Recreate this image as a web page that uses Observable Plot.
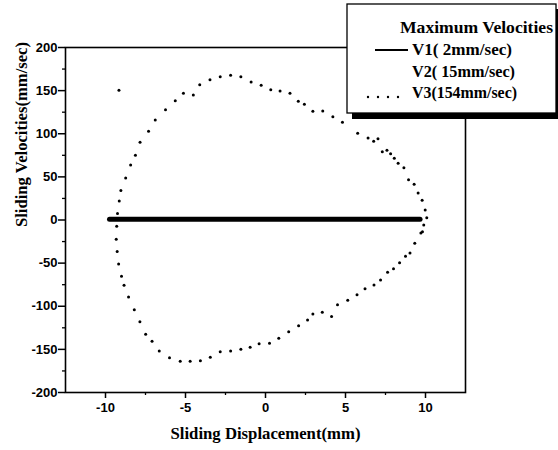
<!DOCTYPE html>
<html><head><meta charset="utf-8">
<script src="https://cdn.jsdelivr.net/npm/d3@7"></script>
<script src="https://cdn.jsdelivr.net/npm/@observablehq/plot@0.6"></script>
<style>
body{margin:0;background:#fff;}
#wrap{position:relative;width:558px;height:450px;}
</style></head><body><div id="wrap"></div>
<script>
const xMajorTicks = [-10, -5, 0, 5, 10];
const yMajorTicks = [-200, -150, -100, -50, 0, 50, 100, 150, 200];
const xMinorTicks = [-7.5, -2.5, 2.5, 7.5];
const yMinorTicks = [-175, -125, -75, -25, 25, 75, 125, 175];

const xTitle = "Sliding Displacement(mm)";
const yTitle = "Sliding Velocities(mm/sec)";

const v1X = [-9.75, 9.66];
const v1Y = [1, 1];

const v3X = [10.08,9.98,9.79,9.54,9.29,8.94,8.65,8.29,8.05,7.82,7.59,7.30,7.03,6.76,6.41,5.76,4.81,4.21,3.58,2.96,2.43,2.05,1.53,0.91,0.33,-0.27,-0.90,-1.54,-2.18,-2.83,-3.47,-4.11,-4.51,-5.13,-5.64,-6.25,-6.89,-7.31,-7.84,-8.13,-8.43,-8.74,-9.04,-9.14,-9.25,-9.30,-9.33,-9.27,-9.18,-9.00,-8.84,-8.56,-8.20,-7.85,-7.49,-7.09,-6.64,-6.00,-5.33,-4.71,-4.07,-3.45,-2.83,-2.18,-1.54,-0.96,-0.40,0.25,0.83,1.45,2.07,2.63,2.96,3.55,4.13,4.50,5.14,5.72,6.22,6.78,7.19,7.63,8.00,8.38,8.75,9.03,9.33,9.71,9.81,9.89,-9.16];
const v3Y = [2.7,11.6,22.8,31.3,41.4,46.7,60.6,65.7,71.5,76.9,80.8,79.2,94.3,91.2,95.1,100.5,113.3,119.8,126.4,126.0,134.1,137.6,146.9,149.6,151.1,156.2,160.0,166.1,167.8,166.1,162.7,156.9,144.9,146.9,138.3,127.9,115.9,102.8,90.1,75.0,63.8,48.7,34.2,22.0,7.5,-7.2,-22.3,-36.5,-51.0,-65.3,-75.6,-89.3,-104.0,-118.0,-132.5,-140.6,-151.9,-159.6,-163.8,-163.8,-163.1,-159.2,-152.7,-151.9,-149.9,-147.6,-143.4,-142.9,-137.2,-129.5,-122.5,-115.9,-109.0,-106.9,-111.9,-98.2,-93.1,-86.6,-79.6,-75.4,-69.6,-60.6,-56.5,-49.5,-42.1,-38.3,-27.0,-15.1,-13.6,-5.8,150.5];

const legendTitle = "Maximum Velocities";
const legendLabels = ["V1( 2mm/sec)", "V2( 15mm/sec)", "V3(154mm/sec)"];

const v1 = v1X.map((x, i) => ({x, y: v1Y[i]}));
const v3 = v3X.map((x, i) => ({x, y: v3Y[i]}));
const fmt = d => String(d);

const chart = Plot.plot({
  width: 558,
  height: 450,
  marginLeft: 65,
  marginRight: 93,
  marginTop: 47,
  marginBottom: 58,
  style: {fontFamily: "Liberation Sans, Arial, sans-serif", fontSize: "13px", fontWeight: "bold", color: "black", background: "white"},
  x: {domain: [-12.5, 12.5]},
  y: {domain: [-200, 200]},
  marks: [
    Plot.axisX({ticks: xMinorTicks, tickSize: 3, tickFormat: () => "", label: null, strokeWidth: 1.3}),
    Plot.axisY({ticks: yMinorTicks, tickSize: 3, tickFormat: () => "", label: null, strokeWidth: 1.3}),
    Plot.axisX({ticks: xMajorTicks, tickSize: 6, tickPadding: 4, tickFormat: fmt, label: null, strokeWidth: 1.5}),
    Plot.axisY({ticks: yMajorTicks, tickSize: 7, tickPadding: 1, tickFormat: fmt, label: null, strokeWidth: 1.5}),
    Plot.frame({stroke: "black", strokeWidth: 1.6}),
    Plot.line(v1, {x: "x", y: "y", stroke: "black", strokeWidth: 5}),
    Plot.dot(v3, {x: "x", y: "y", r: 1.5, fill: "black", stroke: null}),
    Plot.text([xTitle], {frameAnchor: "bottom", dy: 46, text: d => d, fontFamily: "Liberation Serif, Times New Roman, serif", fontSize: 17, fontWeight: "bold", className: "xtitle"}),
    Plot.text([yTitle], {frameAnchor: "left", dx: -44, dy: 7, rotate: -90, text: d => d, fontFamily: "Liberation Serif, Times New Roman, serif", fontSize: 17, fontWeight: "bold", className: "ytitle"})
  ]
});

document.getElementById("wrap").appendChild(chart);
const svg = d3.select(chart);
svg.select(".xtitle text").attr("textLength", 190).attr("lengthAdjust", "spacingAndGlyphs");
svg.select(".ytitle text").attr("textLength", 185).attr("lengthAdjust", "spacingAndGlyphs");

// Legend
const lg = svg.append("g")
  .attr("font-family", "Liberation Serif, Times New Roman, serif")
  .attr("font-weight", "bold")
  .attr("font-size", 16)
  .attr("text-anchor", "start");
lg.append("rect").attr("x", 352).attr("y", 9).attr("width", 210).attr("height", 110).attr("fill", "black");
lg.append("rect").attr("x", 347).attr("y", 4).attr("width", 209).attr("height", 109).attr("fill", "white").attr("stroke", "black").attr("stroke-width", 1.3);
lg.append("text").attr("x", 400).attr("y", 33).attr("textLength", 153).attr("lengthAdjust", "spacingAndGlyphs").text(legendTitle);
const baselines = [55, 77, 98];
const widths = [100, 103, 105];
legendLabels.forEach((t, i) => {
  lg.append("text").attr("x", 412).attr("y", baselines[i]).attr("textLength", widths[i]).attr("lengthAdjust", "spacingAndGlyphs").text(t);
});
lg.append("line").attr("x1", 375).attr("x2", 408).attr("y1", 50).attr("y2", 50).attr("stroke", "black").attr("stroke-width", 2);
[368, 378, 388, 398].forEach(cx => lg.append("circle").attr("cx", cx).attr("cy", 97).attr("r", 1.2).attr("fill", "black"));
</script>
</body></html>
